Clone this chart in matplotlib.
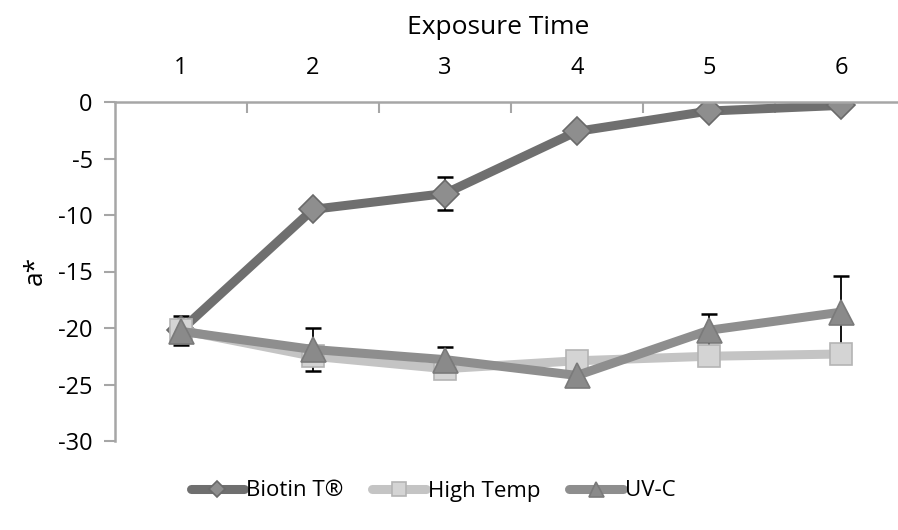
import matplotlib
matplotlib.use("Agg")
import matplotlib.pyplot as plt
import numpy as np

plt.rcParams['font.family'] = ['Open Sans', 'DejaVu Sans']

categories = [1, 2, 3, 4, 5, 6]
biotin = [-20.2, -9.5, -8.1, -2.6, -0.8, -0.3]
biotin_err = [1.3, 0.3, 1.5, 0.0, 0.0, 0.0]
hightemp = [-20.2, -22.5, -23.6, -22.9, -22.5, -22.3]
hightemp_err = [0.0, 0.0, 0.0, 0.0, 0.0, 0.0]
uvc = [-20.3, -21.9, -22.8, -24.2, -20.2, -18.6]
uvc_err = [0.0, 1.9, 1.1, 0.0, 1.4, 3.2]
yticks = [0, -5, -10, -15, -20, -25, -30]

fig = plt.figure(figsize=(8.98, 5.30), dpi=100)
ax = fig.add_axes([115/898, 1-441/530, 792/898, 339/530])
x = np.array(categories)

series = [
    ("Biotin T®", biotin, biotin_err, '#6f6f6f', 'D', '#8e8e8e', '#6a6a6a', 14),
    ("High Temp", hightemp, hightemp_err, '#c4c4c4', 's', '#d4d4d4', '#b4b4b4', 16),
    ("UV-C", uvc, uvc_err, '#8e8e8e', '^', '#8a8a8a', '#7a7a7a', 18),
]
handles = []
for i, (name, vals, err, lc, mk, mfc, mec, ms) in enumerate(series):
    e = np.array(err)
    mask = e > 0
    ax.errorbar(x[mask], np.array(vals)[mask], yerr=e[mask], fmt='none', ecolor='black',
                elinewidth=1.3, capsize=6, capthick=1.8, zorder=1)
    h, = ax.plot(x, vals, color=lc, lw=6.5, marker=mk, markersize=ms, markerfacecolor=mfc,
                 markeredgecolor=mec, markeredgewidth=1.2, solid_capstyle='round', zorder=2+i, label=name)
    handles.append(h)

ax.set_xlim(0.5, 6.5)
ax.set_ylim(-30, 0)
ax.set_yticks(yticks)
ax.set_yticklabels([str(v) for v in yticks])
ax.xaxis.tick_top()
ax.set_xticks(categories)
ax.set_xticklabels([str(c) for c in categories])
ax.set_xticks(np.arange(1.5, 6.5, 1.0), minor=True)
ax.tick_params(axis='x', which='major', length=0, pad=16, labelsize=17)
ax.tick_params(axis='x', which='minor', direction='in', length=8, width=1.5, color='#a6a6a6')
ax.tick_params(axis='y', which='major', direction='out', length=8, width=1.5, color='#a6a6a6', labelsize=17, pad=8)
for s in ['right', 'bottom']:
    ax.spines[s].set_visible(False)
for s in ['top', 'left']:
    ax.spines[s].set_color('#a6a6a6')
    ax.spines[s].set_linewidth(1.8)

fig.text(498/898, 1-27/530, "Exposure Time", ha='center', va='center', fontsize=19)
fig.text(35/898, 1-270/530, "a*", ha='center', va='center', fontsize=19, rotation=90)

leg = fig.legend(handles=handles, loc='center', bbox_to_anchor=(433/898, 1-491/530), ncol=3,
                 frameon=False, fontsize=16, handlelength=2.4, handletextpad=0.1, columnspacing=1.3,
                 markerscale=0.6)

fig.savefig("out.png", dpi=100)
